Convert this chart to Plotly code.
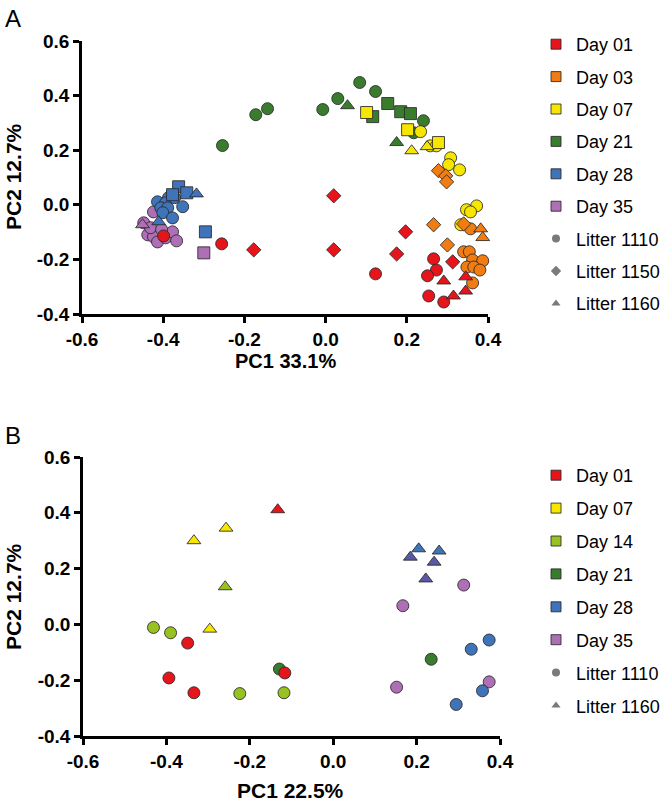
import plotly.graph_objects as go

# ---------------- Panel A data ----------------
A_days = ["Day 01", "Day 03", "Day 07", "Day 21", "Day 28", "Day 35"]
A_colors = ["#E5151B", "#F07C12", "#F7E600", "#3A7C2E", "#3F74BA", "#AE6FB6"]

# Day 01
a01_circ_x = [-0.399, -0.256, 0.123, 0.266, 0.273, 0.251, 0.254, 0.291]
a01_circ_y = [-0.114, -0.143, -0.253, -0.198, -0.239, -0.260, -0.334, -0.356]
a01_diam_x = [-0.177, 0.020, 0.020, 0.197, 0.175, 0.313]
a01_diam_y = [-0.165, 0.033, -0.165, -0.099, -0.180, -0.209]
a01_tri_x = [0.291, 0.345, 0.315, 0.345]
a01_tri_y = [-0.279, -0.264, -0.334, -0.316]
# Day 03
a03_circ_x = [0.357, 0.340, 0.354, 0.362, 0.387, 0.348, 0.365, 0.380, 0.362]
a03_circ_y = [-0.088, -0.172, -0.172, -0.202, -0.205, -0.228, -0.228, -0.239, -0.286]
a03_diam_x = [0.278, 0.296, 0.298, 0.266, 0.300, 0.340]
a03_diam_y = [0.125, 0.106, 0.084, -0.073, -0.147, -0.070]
a03_tri_x = [0.382, 0.387]
a03_tri_y = [-0.088, -0.120]
# Day 07
a07_circ_x = [0.234, 0.258, 0.273, 0.308, 0.303, 0.330, 0.372, 0.347, 0.357, 0.333]
a07_circ_y = [0.268, 0.216, 0.216, 0.172, 0.147, 0.128, -0.004, -0.018, -0.026, -0.073]
a07_sq_x = [0.101, 0.202, 0.278]
a07_sq_y = [0.338, 0.275, 0.228]
a07_tri_x = [0.212, 0.250]
a07_tri_y = [0.198, 0.213]
# Day 21
a21_circ_x = [-0.254, -0.172, -0.143, -0.007, 0.030, 0.084, 0.123, 0.241, 0.217]
a21_circ_y = [0.217, 0.330, 0.352, 0.349, 0.389, 0.448, 0.415, 0.308, 0.264]
a21_sq_x = [0.116, 0.153, 0.185, 0.209]
a21_sq_y = [0.323, 0.371, 0.341, 0.334]
a21_tri_x = [0.054, 0.175]
a21_tri_y = [0.363, 0.228]
# Day 28
a28_circ_x = [-0.414, -0.387, -0.394, -0.406, -0.389, -0.401, -0.352, -0.377, -0.372]
a28_circ_y = [0.011, 0.026, 0.007, -0.011, -0.011, -0.029, -0.007, -0.048, 0.026]
a28_sq_x = [-0.362, -0.342, -0.377, -0.296]
a28_sq_y = [0.066, 0.044, 0.037, -0.099]
a28_tri_x = [-0.318, -0.411]
a28_tri_y = [0.040, -0.062]
# Day 35
a35_circ_x = [-0.424, -0.448, -0.438, -0.424, -0.414, -0.394, -0.377, -0.367, -0.431, -0.404]
a35_circ_y = [-0.026, -0.066, -0.110, -0.117, -0.136, -0.121, -0.099, -0.132, -0.084, -0.090]
a35_sq_x = [-0.300]
a35_sq_y = [-0.176]
a35_tri_x = [-0.451]
a35_tri_y = [-0.073]

# ---------------- Panel B data ----------------
B_days = ["Day 01", "Day 07", "Day 14", "Day 21", "Day 28", "Day 35"]
B_colors = ["#E5151B", "#F7E600", "#97C21F", "#3A7C2E", "#3F74BA", "#AE6FB6"]
B_tri_extra_color = "#5B58A6"

b01_circ_x = [-0.349, -0.394, -0.334, -0.116]
b01_circ_y = [-0.067, -0.192, -0.245, -0.174]
b01_tri_x = [-0.133]
b01_tri_y = [0.411]
b07_tri_x = [-0.334, -0.257, -0.296]
b07_tri_y = [0.300, 0.345, -0.017]
b14_circ_x = [-0.431, -0.390, -0.224, -0.118]
b14_circ_y = [-0.011, -0.030, -0.248, -0.245]
b14_tri_x = [-0.259]
b14_tri_y = [0.135]
b21_circ_x = [-0.129, 0.235]
b21_circ_y = [-0.160, -0.125]
b28_circ_x = [0.374, 0.331, 0.358, 0.295]
b28_circ_y = [-0.056, -0.089, -0.238, -0.287]
b28_tri_x = [0.205, 0.254]
b28_tri_y = [0.271, 0.263]
b35_circ_x = [0.313, 0.167, 0.152, 0.374]
b35_circ_y = [0.141, 0.067, -0.225, -0.206]
b35_tri_x = [0.185, 0.242, 0.222]
b35_tri_y = [0.241, 0.223, 0.163]

tick_vals = [-0.6, -0.4, -0.2, 0.0, 0.2, 0.4, 0.6]
tick_text = ["-0.6", "-0.4", "-0.2", "0.0", "0.2", "0.4", "0.6"]

FONT = "Liberation Sans, Arial, sans-serif"
STROKE = "rgba(40,40,40,0.85)"
SIZES = {"circle": 12, "square": 12, "diamond": 11, "triangle-up": 12}

fig = go.Figure()


def add(x, y, color, symbol, xa, ya):
    fig.add_trace(go.Scatter(
        x=x, y=y, mode="markers", xaxis=xa, yaxis=ya, showlegend=False,
        cliponaxis=False, hoverinfo="skip",
        marker=dict(color=color, symbol=symbol, size=SIZES[symbol],
                    line=dict(color=STROKE, width=1))))


# Panel A (draw later days first so earlier days sit on top)
A_sets = [
    (5, [(a35_circ_x, a35_circ_y, "circle"), (a35_sq_x, a35_sq_y, "square"), (a35_tri_x, a35_tri_y, "triangle-up")]),
    (4, [(a28_circ_x, a28_circ_y, "circle"), (a28_sq_x, a28_sq_y, "square"), (a28_tri_x, a28_tri_y, "triangle-up")]),
    (3, [(a21_circ_x, a21_circ_y, "circle"), (a21_sq_x, a21_sq_y, "square"), (a21_tri_x, a21_tri_y, "triangle-up")]),
    (2, [(a07_circ_x, a07_circ_y, "circle"), (a07_sq_x, a07_sq_y, "square"), (a07_tri_x, a07_tri_y, "triangle-up")]),
    (1, [(a03_circ_x, a03_circ_y, "circle"), (a03_diam_x, a03_diam_y, "diamond"), (a03_tri_x, a03_tri_y, "triangle-up")]),
    (0, [(a01_circ_x, a01_circ_y, "circle"), (a01_diam_x, a01_diam_y, "diamond"), (a01_tri_x, a01_tri_y, "triangle-up")]),
]
for ci, groups in A_sets:
    for x, y, s in groups:
        add(x, y, A_colors[ci], s, "x", "y")

# Panel B
B_sets = [
    (B_colors[5], b35_circ_x, b35_circ_y, "circle"),
    (B_tri_extra_color, b35_tri_x, b35_tri_y, "triangle-up"),
    (B_colors[4], b28_circ_x, b28_circ_y, "circle"),
    (B_colors[4], b28_tri_x, b28_tri_y, "triangle-up"),
    (B_colors[3], b21_circ_x, b21_circ_y, "circle"),
    (B_colors[2], b14_circ_x, b14_circ_y, "circle"),
    (B_colors[2], b14_tri_x, b14_tri_y, "triangle-up"),
    (B_colors[1], b07_tri_x, b07_tri_y, "triangle-up"),
    (B_colors[0], b01_circ_x, b01_circ_y, "circle"),
    (B_colors[0], b01_tri_x, b01_tri_y, "triangle-up"),
]
for c, x, y, s in B_sets:
    add(x, y, c, s, "x2", "y2")

# Legend entries
for i, (d, c) in enumerate(zip(A_days, A_colors)):
    fig.add_trace(go.Scatter(x=[None], y=[None], mode="markers", name=d, legend="legend",
                             legendgroup=f"a{i}", xaxis="x", yaxis="y",
                             marker=dict(color=c, symbol="square", size=10, line=dict(color=STROKE, width=1))))
for i, (n, s) in enumerate([("Litter 1110", "circle"), ("Litter 1150", "diamond"), ("Litter 1160", "triangle-up")]):
    fig.add_trace(go.Scatter(x=[None], y=[None], mode="markers", name=n, legend="legend",
                             legendgroup=f"al{i}", xaxis="x", yaxis="y",
                             marker=dict(color="#7a7a7a", symbol=s, size=8, line=dict(width=0))))
for i, (d, c) in enumerate(zip(B_days, B_colors)):
    fig.add_trace(go.Scatter(x=[None], y=[None], mode="markers", name=d, legend="legend2",
                             legendgroup=f"b{i}", xaxis="x2", yaxis="y2",
                             marker=dict(color=c, symbol="square", size=10, line=dict(color=STROKE, width=1))))
for i, (n, s) in enumerate([("Litter 1110", "circle"), ("Litter 1160", "triangle-up")]):
    fig.add_trace(go.Scatter(x=[None], y=[None], mode="markers", name=n, legend="legend2",
                             legendgroup=f"bl{i}", xaxis="x2", yaxis="y2",
                             marker=dict(color="#7a7a7a", symbol=s, size=8, line=dict(width=0))))

axis_common = dict(
    showgrid=False, zeroline=False, showline=True, linecolor="black", linewidth=2.5,
    ticks="outside", ticklen=6, tickwidth=2.5, tickcolor="black", automargin=False,
    tickfont=dict(family=FONT, size=19, color="black", weight="bold"),
)

fig.update_layout(
    width=667, height=806,
    margin=dict(l=0, r=0, t=0, b=0, autoexpand=False),
    paper_bgcolor="white", plot_bgcolor="white",
    font=dict(family=FONT, color="black"),
    xaxis=dict(domain=[82 / 667, 488 / 667], range=[-0.6, 0.4], anchor="y",
               tickvals=tick_vals[:-1], ticktext=tick_text[:-1], **axis_common),
    yaxis=dict(domain=[1 - 314 / 806, 1 - 41 / 806], range=[-0.4, 0.6], anchor="x",
               tickvals=tick_vals[1:], ticktext=tick_text[1:], **axis_common),
    xaxis2=dict(domain=[83 / 667, 500 / 667], range=[-0.6, 0.4], anchor="y2",
                tickvals=tick_vals[:-1], ticktext=tick_text[:-1], **axis_common),
    yaxis2=dict(domain=[1 - 736 / 806, 1 - 457 / 806], range=[-0.4, 0.6], anchor="x2",
                tickvals=tick_vals[1:], ticktext=tick_text[1:], **axis_common),
    legend=dict(x=536 / 667, y=1 - 26 / 806, xanchor="left", yanchor="top",
                font=dict(family=FONT, size=18, color="black"), tracegroupgap=6,
                bgcolor="rgba(0,0,0,0)", itemclick=False),
    legend2=dict(x=536 / 667, y=1 - 457 / 806, xanchor="left", yanchor="top",
                 font=dict(family=FONT, size=18, color="black"), tracegroupgap=6.5,
                 bgcolor="rgba(0,0,0,0)", itemclick=False),
    annotations=[
        dict(text="A", x=3 / 667, y=1 - 3 / 806, xref="paper", yref="paper", showarrow=False,
             xanchor="left", yanchor="top", font=dict(family=FONT, size=24, color="black")),
        dict(text="B", x=3 / 667, y=1 - 420 / 806, xref="paper", yref="paper", showarrow=False,
             xanchor="left", yanchor="top", font=dict(family=FONT, size=24, color="black")),
        dict(text="PC2 12.7%", x=13 / 667, y=1 - 177 / 806, xref="paper", yref="paper", showarrow=False,
             xanchor="center", yanchor="middle",
             textangle=-90, font=dict(family=FONT, size=21, color="black", weight="bold")),
        dict(text="PC1 33.1%", x=285 / 667, y=1 - 361 / 806, xref="paper", yref="paper", showarrow=False,
             xanchor="center", yanchor="middle",
             font=dict(family=FONT, size=20, color="black", weight="bold")),
        dict(text="PC2 12.7%", x=13 / 667, y=1 - 597 / 806, xref="paper", yref="paper", showarrow=False,
             xanchor="center", yanchor="middle",
             textangle=-90, font=dict(family=FONT, size=21, color="black", weight="bold")),
        dict(text="PC1 22.5%", x=290 / 667, y=1 - 790 / 806, xref="paper", yref="paper", showarrow=False,
             xanchor="center", yanchor="middle",
             font=dict(family=FONT, size=21, color="black", weight="bold")),
    ],
)

fig.write_html("out.html", config={"displayModeBar": False},
               post_script="document.body.style.margin='0px';")
